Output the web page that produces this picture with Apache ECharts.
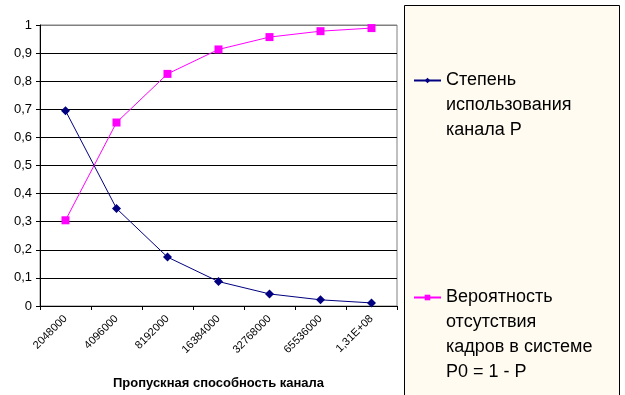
<!DOCTYPE html>
<html><head><meta charset="utf-8">
<script src="https://cdn.jsdelivr.net/npm/echarts@6/dist/echarts.min.js"></script>
<style>html,body{margin:0;padding:0;background:#fff;}#c{width:625px;height:395px;}</style>
</head><body><div id="c"></div>
<script>
var categories = ['2048000','4096000','8192000','16384000','32768000','65536000','1,31E+08'];
var utilization = [0.695, 0.347, 0.174, 0.087, 0.043, 0.022, 0.011];
var emptyProb = [0.305, 0.653, 0.826, 0.913, 0.957, 0.978, 0.989];
var seriesNames = ['Степень использования канала Р', 'Вероятность отсутствия кадров в системе Р0 = 1 - Р'];
var legendLines1 = 'Степень\nиспользования\nканала Р';
var legendLines2 = 'Вероятность\nотсутствия\nкадров в системе\nР0 = 1 - Р';
var xTitle = 'Пропускная способность канала';

var chart = echarts.init(document.getElementById('c'), null, {renderer:'canvas'});
var gridColors = ['#000','#000','#000','#000','#000','#000','#000','#000','#000','#000','#808080'];
var ff = 'Liberation Sans, Arial, sans-serif';
chart.setOption({
  animation:false,
  backgroundColor:'#fff',
  grid:{left:40, right:228, top:25, bottom:88, show:true, borderColor:'#808080', borderWidth:1, backgroundColor:'#fff'},
  xAxis:{
    type:'category', data:categories, boundaryGap:true,
    axisLine:{lineStyle:{color:'#000', width:1}},
    axisTick:{show:true, alignWithLabel:false, length:4, lineStyle:{color:'#000'}},
    axisLabel:{rotate:45, fontSize:11, fontFamily:ff, color:'#000', margin:11, interval:0},
    name:xTitle, nameLocation:'middle', nameGap:71,
    nameTextStyle:{fontSize:13, fontWeight:'bold', fontFamily:ff, color:'#000'}
  },
  yAxis:{
    type:'value', min:0, max:1, interval:0.1,
    axisLine:{show:true, lineStyle:{color:'#000'}},
    axisTick:{show:true, length:4, lineStyle:{color:'#000'}},
    axisLabel:{fontSize:13, fontFamily:ff, color:'#000', margin:8,
      formatter:function(v){ return String(Math.round(v*10)/10).replace('.', ','); }},
    splitLine:{show:true, lineStyle:{color:gridColors, width:1}}
  },
  legend:[
    {data:[seriesNames[0]], left:413, top:77, itemWidth:27, itemHeight:7, formatter:function(){return '';}, selectedMode:false, padding:0},
    {data:[seriesNames[1]], left:413, top:294, itemWidth:27, itemHeight:7, formatter:function(){return '';}, selectedMode:false, padding:0}
  ],
  graphic:[
    {type:'rect', left:404, top:5, z:-10, shape:{width:215, height:400}, style:{fill:'#FFFBF0', stroke:'#000', lineWidth:1}},
    {type:'text', left:446, top:68, z:10, style:{text:legendLines1, font:'18px '+ff, fill:'#000', lineHeight:25}},
    {type:'text', left:446, top:285, z:10, style:{text:legendLines2, font:'18px '+ff, fill:'#000', lineHeight:25}}
  ],
  series:[
    {name:seriesNames[0], type:'line', data:utilization, symbol:'diamond', symbolSize:9,
     lineStyle:{color:'#000080', width:1}, itemStyle:{color:'#000080'}},
    {name:seriesNames[1], type:'line', data:emptyProb, symbol:'rect', symbolSize:8,
     lineStyle:{color:'#FF00FF', width:1}, itemStyle:{color:'#FF00FF'}}
  ]
});
</script></body></html>
